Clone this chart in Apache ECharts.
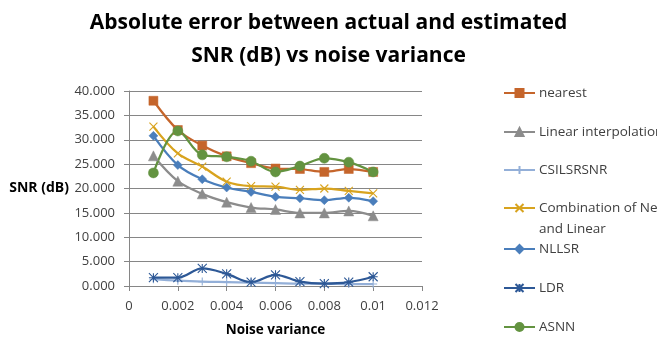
<!DOCTYPE html>
<html>
<head>
<meta charset="utf-8">
<script src="https://cdn.jsdelivr.net/npm/echarts@6/dist/echarts.min.js"></script>
<style>
  html, body { margin: 0; padding: 0; background: #fff; }
  #chart { width: 657px; height: 345px; }
</style>
</head>
<body>
<div id="chart"></div>
<script>
// Noise variance values on the x axis
const noiseVariance = [0.001, 0.002, 0.003, 0.004, 0.005, 0.006, 0.007, 0.008, 0.009, 0.01];

// Absolute SNR error (dB) for each estimator
const nearest      = [38.0, 32.0, 28.8, 26.6, 25.2, 24.1, 24.0, 23.4, 24.0, 23.4];
const linearInterp = [26.7, 21.5, 18.9, 17.2, 16.1, 15.7, 15.0, 15.0, 15.4, 14.4];
const csilsrsnr    = [1.4, 1.1, 0.9, 0.8, 0.7, 0.6, 0.5, 0.5, 0.4, 0.4];
const combination  = [32.7, 27.2, 24.5, 21.4, 20.5, 20.4, 19.7, 20.0, 19.5, 19.0];
const nllsr        = [30.8, 24.8, 21.9, 20.2, 19.3, 18.3, 18.0, 17.6, 18.1, 17.4];
const ldr          = [1.7, 1.7, 3.6, 2.5, 0.8, 2.3, 0.9, 0.5, 0.8, 1.9];
const asnn         = [23.2, 31.8, 26.9, 26.5, 25.6, 23.4, 24.6, 26.2, 25.4, 23.4];

// Axis ticks
const xTicks = { min: 0, max: 0.012, step: 0.002 };
const yTicks = { min: 0, max: 40, step: 5 };

const FONT = '"Open Sans", "Noto Sans", sans-serif';

const pairs = ys => noiseVariance.map((x, i) => [x, ys[i]]);

const xMark = 'path://M0,0L10,10M10,0L0,10';
const plusMark = 'path://M0,5L10,5M5,0L5,10';
const starMark = 'path://M0,0L10,10M10,0L0,10M5,0L5,10M0,5L10,5';

function lineSeries(name, data, color, symbol, size, strokeOnly) {
  return {
    name: name,
    type: 'line',
    data: pairs(data),
    smooth: 0.35,
    symbol: symbol,
    symbolSize: size,
    color: color,
    lineStyle: { color: color, width: 2.25 },
    itemStyle: strokeOnly
      ? { color: color, borderColor: color, borderWidth: 1.1 }
      : { color: color, borderColor: color, borderWidth: 0.5 },
    z: 3
  };
}

const seriesList = [
  lineSeries('nearest', nearest, '#C5652B', 'rect', 9),
  lineSeries('Linear interpolation', linearInterp, '#8C8C8C', 'triangle', 10),
  lineSeries('CSILSRSNR', csilsrsnr, '#93AFD8', plusMark, 8, true),
  lineSeries('Combination of Nearest and Linear', combination, '#D8A31E', xMark, 8, true),
  lineSeries('NLLSR', nllsr, '#4A7EBB', 'diamond', 9),
  lineSeries('LDR', ldr, '#2D5896', starMark, 9, true),
  lineSeries('ASNN', asnn, '#639340', 'circle', 10)
];

// legend rows: label centre y in pixels
const legendRows = [
  { name: 'nearest', y: 93 },
  { name: 'Linear interpolation', y: 132 },
  { name: 'CSILSRSNR', y: 170 },
  { name: 'Combination of Nearest and Linear', y: 208, twoLine: true },
  { name: 'NLLSR', y: 249 },
  { name: 'LDR', y: 288 },
  { name: 'ASNN', y: 327 }
];
const LH = 21;
const legends = legendRows.map(r => ({
  data: [r.name],
  orient: 'vertical',
  left: 503,
  top: r.twoLine ? r.y - 1.5 * LH : r.y - LH / 2,
  itemWidth: 31,
  itemHeight: 10,
  itemGap: 0,
  padding: 0,
  formatter: r.twoLine ? '\nCombination of Nearest\nand Linear' : '{name}',
  textStyle: { fontFamily: FONT, fontSize: 13.5, color: '#404040', lineHeight: LH, padding: [0, 0, 0, -1] }
}));

const chart = echarts.init(document.getElementById('chart'), null, { renderer: 'canvas' });
chart.setOption({
  animation: false,
  backgroundColor: '#ffffff',
  title: {
    text: 'Absolute error between actual and estimated\nSNR (dB) vs noise variance',
    left: 'center',
    top: 2,
    textStyle: { fontFamily: FONT, fontSize: 21, fontWeight: 'bold', color: '#000', lineHeight: 33 }
  },
  legend: legends,
  grid: { left: 129, right: 235, top: 91, bottom: 59, outerBoundsMode: 'none', containLabel: false },
  xAxis: {
    type: 'value',
    min: xTicks.min, max: xTicks.max, interval: xTicks.step,
    name: 'Noise variance',
    nameLocation: 'middle',
    nameGap: 37,
    nameTextStyle: { fontFamily: FONT, fontSize: 13.5, fontWeight: 'bold', color: '#000' },
    axisLine: { onZero: false, lineStyle: { color: '#868686', width: 1 } },
    axisTick: { show: true, inside: false, length: 5, lineStyle: { color: '#868686' } },
    splitLine: { show: false },
    axisLabel: {
      margin: 14, fontFamily: FONT, fontSize: 13, color: '#404040',
      formatter: v => String(+v.toFixed(3))
    }
  },
  yAxis: {
    type: 'value',
    min: yTicks.min, max: yTicks.max, interval: yTicks.step,
    name: 'SNR (dB)',
    nameLocation: 'middle',
    nameRotate: 0,
    nameGap: 60,
    nameTextStyle: { fontFamily: FONT, fontSize: 14, fontWeight: 'bold', color: '#000' },
    axisLine: { show: true, lineStyle: { color: '#868686', width: 1 } },
    axisTick: { show: true, inside: false, length: 5, lineStyle: { color: '#868686' } },
    splitLine: { show: true, lineStyle: { color: '#868686', width: 1 } },
    axisLabel: {
      margin: 14, fontFamily: FONT, fontSize: 13, color: '#404040',
      formatter: v => v.toFixed(3)
    }
  },
  series: seriesList
});
</script>
</body>
</html>
